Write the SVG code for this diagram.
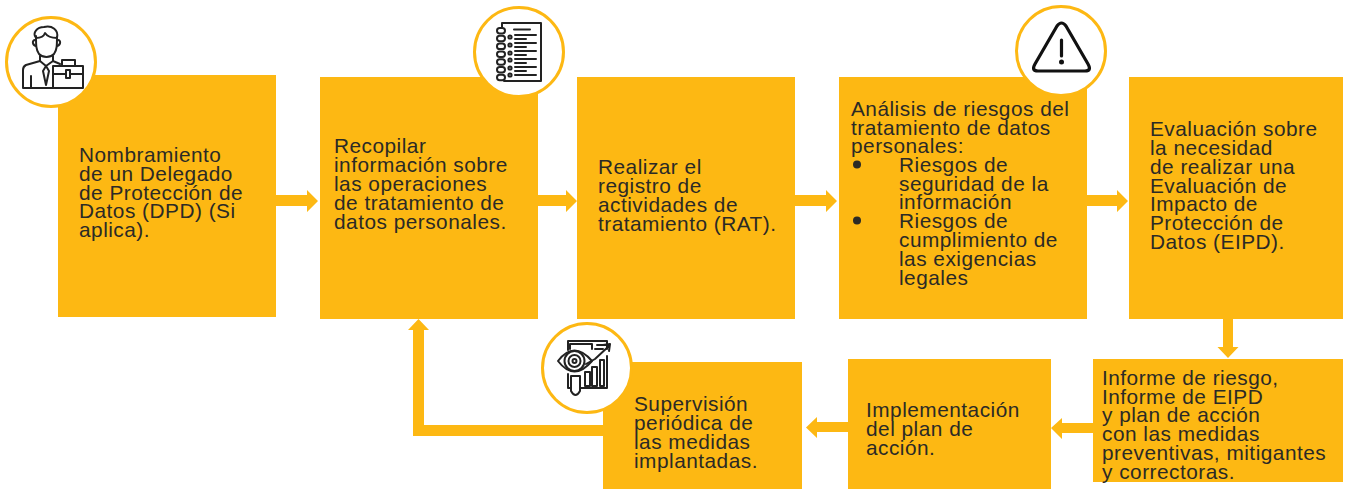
<svg xmlns="http://www.w3.org/2000/svg" width="1346" height="490" viewBox="0 0 1346 490">
<style>
.box{fill:#fdb813}
.arrow{fill:#fdb813}
.ring{fill:#fff;stroke:#fdb813;stroke-width:3}
.ic{fill:none;stroke:#222;stroke-width:2;stroke-linejoin:round;stroke-linecap:round}
text{font-family:"Liberation Sans",Arial,sans-serif;font-size:20.800px;letter-spacing:.5px;fill:#2b2a26;transform:translateY(.8px)}
</style>
<rect width="1346" height="490" fill="#fff"/>
<g id="connectors">
<path class="arrow" d="M276 195H307V190L318 201L307 212V206H276Z"/>
<path class="arrow" d="M538 195H566V190L577 201L566 212V206H538Z"/>
<path class="arrow" d="M795 195H826V190L837 201L826 212V206H795Z"/>
<path class="arrow" d="M1087 195H1117V190L1128 201L1117 212V206H1087Z"/>
<path class="arrow" d="M1223 319H1233V347H1238.500L1228 358L1217.500 347H1223Z"/>
<path class="arrow" d="M1093 423V433H1062V439L1051 428L1062 418V423Z"/>
<path class="arrow" d="M848 422V432H817V438L806 427.500L817 417V422Z"/>
<path class="arrow" d="M603 425V436H413V330H408L418.500 319L429 330H424V425Z"/>
</g>
<g id="node-1">
<rect class="box" x="58" y="75" width="218" height="242"/>
<text x="79" y="161">Nombramiento</text>
<text x="79" y="180">de un Delegado</text>
<text x="79" y="199">de Protección de</text>
<text x="79" y="217">Datos (DPD) (Si</text>
<text x="79" y="236">aplica).</text>
</g>
<g id="icon-1">
<circle class="ring" cx="51" cy="62" r="44.500"/>
<g class="ic">
<path d="M36 36C36 45 36 50 39 54C43 58 50 58 54 54C57 50 57 45 57 37"/>
<path d="M36 38C32 33 37 27 44 27C52 25 59 30 57 38C52 38 47 36 45 33C44 36 41 38 36 38Z"/>
<path d="M35 40C32 40 32 45 36 46M58 40C61 40 61 45 57 46"/>
<path d="M40 56V61L26 65C24 66 23 67 23 70V88H53M53 56V61L60 64"/>
<path d="M40 61L46 66L53 61M46 66L43 71L46 85L49 71Z"/>
<path d="M31 76V88"/>
<rect x="53" y="66" width="30" height="22"/>
<path d="M53 74H83M62 66V60H75V66"/>
<rect x="66" y="70" width="4" height="8" fill="#fff"/>
</g>
</g>
<g id="node-2">
<rect class="box" x="320" y="77" width="218" height="242"/>
<text x="334" y="152">Recopilar</text>
<text x="334" y="171">información sobre</text>
<text x="334" y="190">las operaciones</text>
<text x="334" y="209">de tratamiento de</text>
<text x="334" y="228">datos personales.</text>
</g>
<g id="icon-2">
<circle class="ring" cx="519" cy="52" r="44.500"/>
<g class="ic">
<path d="M502 27V23H541V81H504"/>
<rect x="497" y="28" width="8" height="5.500" rx="2.700"/><rect x="497" y="35.800" width="8" height="5.500" rx="2.700"/>
<rect x="497" y="43.600" width="8" height="5.500" rx="2.700"/><rect x="497" y="51.400" width="8" height="5.500" rx="2.700"/>
<rect x="497" y="59.200" width="8" height="5.500" rx="2.700"/><rect x="497" y="67" width="8" height="5.500" rx="2.700"/>
<rect x="497" y="74.800" width="8" height="5.500" rx="2.700"/>
<circle cx="510" cy="37" r="1.600"/><circle cx="510" cy="45" r="1.600"/><circle cx="510" cy="53" r="1.600"/><circle cx="510" cy="60" r="1.600"/><circle cx="510" cy="68" r="1.600"/><circle cx="510" cy="75" r="1.600"/>
<path d="M514 29.500H530M515 35H536M515 39H526M515 43H536M515 47H526M515 51H536M515 55H526M515 59H536M515 63H526M515 67H536M515 71H526M515 75H536"/>
</g>
</g>
<g id="node-3">
<rect class="box" x="577" y="77" width="218" height="242"/>
<text x="598" y="173">Realizar el</text>
<text x="598" y="192">registro de</text>
<text x="598" y="211">actividades de</text>
<text x="598" y="230">tratamiento (RAT).</text>
</g>
<g id="node-4">
<rect class="box" x="839" y="77" width="248" height="242"/>
<text x="851" y="115">Análisis de riesgos del</text>
<text x="851" y="134">tratamiento de datos</text>
<text x="851" y="152">personales:</text>
<circle cx="857" cy="164.500" r="4" fill="#2b2a26"/>
<text x="899" y="171">Riesgos de</text>
<text x="899" y="190">seguridad de la</text>
<text x="899" y="208">información</text>
<circle cx="857" cy="220.500" r="4" fill="#2b2a26"/>
<text x="899" y="227">Riesgos de</text>
<text x="899" y="246">cumplimiento de</text>
<text x="899" y="265">las exigencias</text>
<text x="899" y="284">legales</text>
</g>
<g id="icon-3">
<circle class="ring" cx="1061" cy="51" r="44.500"/>
<path d="M1057 26Q1061.500 20 1066 26L1088 64Q1092 71 1085 71H1038Q1031 71 1035 64Z" fill="none" stroke="#111" stroke-width="3.200" stroke-linejoin="round"/>
<path d="M1061.500 40V56" stroke="#111" stroke-width="3.200" stroke-linecap="round"/>
<circle cx="1061.500" cy="62" r="2.500" fill="#111"/>
</g>
<g id="node-5">
<rect class="box" x="1129" y="77" width="214" height="242"/>
<text x="1150" y="135">Evaluación sobre</text>
<text x="1150" y="154">la necesidad</text>
<text x="1150" y="173">de realizar una</text>
<text x="1150" y="192">Evaluación de</text>
<text x="1150" y="210">Impacto de</text>
<text x="1150" y="229">Protección de</text>
<text x="1150" y="248">Datos (EIPD).</text>
</g>
<g id="node-6">
<rect class="box" x="1093" y="359" width="250" height="123"/>
<text x="1102" y="384">Informe de riesgo,</text>
<text x="1102" y="403">Informe de EIPD</text>
<text x="1102" y="421">y plan de acción</text>
<text x="1102" y="440">con las medidas</text>
<text x="1102" y="459">preventivas, mitigantes</text>
<text x="1102" y="478">y correctoras.</text>
</g>
<g id="node-7">
<rect class="box" x="848" y="359" width="203" height="130"/>
<text x="866" y="416">Implementación</text>
<text x="866" y="435">del plan de</text>
<text x="866" y="454">acción.</text>
</g>
<g id="node-8">
<rect class="box" x="603" y="362" width="199" height="127"/>
<text x="634" y="410">Supervisión</text>
<text x="634" y="429">periódica de</text>
<text x="634" y="448">las medidas</text>
<text x="634" y="467">implantadas.</text>
</g>
<g id="icon-4">
<circle class="ring" cx="587" cy="368" r="44.500"/>
<g class="ic">
<path d="M568 350V341H607V349M570 344V349M570 344H592V349"/>
<path d="M597 345H606M595 349H603"/>
<path d="M607 356V388H581M568 374V388H571"/>
<path d="M558 361Q574 340 592 361Q574 382 558 361Z" fill="#fff"/>
<circle cx="574.500" cy="361" r="10" fill="#fff"/><circle cx="574.500" cy="361" r="6"/><circle cx="574.500" cy="361" r="2"/>
<path d="M571 376H580V391Q575.500 399 571 391Z"/>
<path d="M586 364L595 359L609 346M603 345L610 344L609 351"/>
<path d="M585 372H590V386H585ZM592 367H597V386H592ZM600 360H604V386H600Z"/>
</g>
</g>
</svg>
